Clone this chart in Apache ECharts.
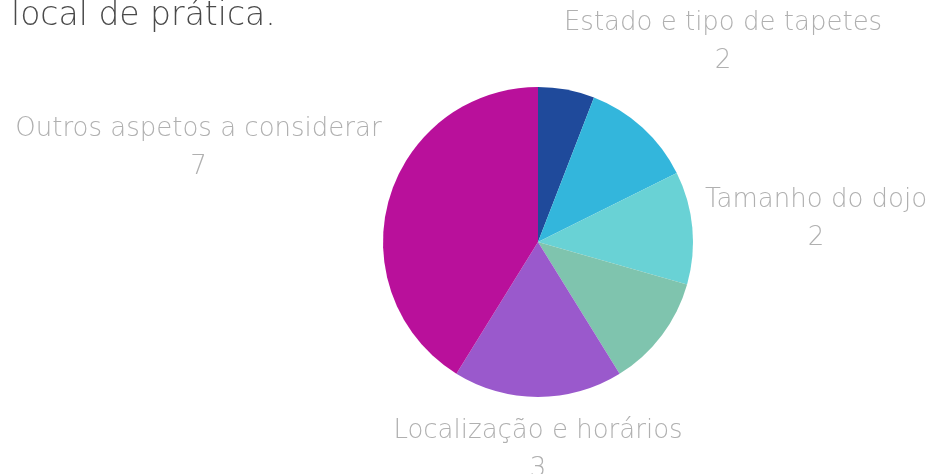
<!DOCTYPE html>
<html>
<head>
<meta charset="utf-8">
<script src="https://cdn.jsdelivr.net/npm/echarts@6/dist/echarts.min.js"></script>
<style>
  html, body { margin: 0; padding: 0; background: #fff; }
  #chart { width: 944px; height: 474px; }
</style>
</head>
<body>
<div id="chart"></div>
<script>
const titleText = 'local de prática.';
const names = ['', 'Estado e tipo de tapetes', 'Tamanho do dojo', '', 'Localização e horários', 'Outros aspetos a considerar'];
const values = [1, 2, 2, 2, 3, 7];
const colors = ['#1f4a9b', '#33b6dc', '#69d2d5', '#7fc4ae', '#9a59cc', '#b9109b'];
const showLabel = [false, true, true, false, true, true];

const center = [538, 242];
const radius = 155;
const clearR = 167;
const total = values.reduce((a, b) => a + b, 0);

// put each label along its slice's mid angle, just clear of the pie
const placeLabel = (params) => {
	const i = params.dataIndex;
	let before = 0;
	for (let k = 0; k < i; k++) before += values[k];
	const mid = (before + values[i] / 2) / total * Math.PI * 2;
	const ux = Math.sin(mid);
	const uy = -Math.cos(mid);
	const w = params.labelRect.width;
	const h = params.labelRect.height;
	let lo = 0, hi = 800;
	for (let n = 0; n < 40; n++) {
		const t = (lo + hi) / 2;
		const dx = Math.max(Math.abs(ux * t) - w / 2, 0);
		const dy = Math.max(Math.abs(uy * t) - h / 2, 0);
		if (Math.hypot(dx, dy) < clearR) lo = t; else hi = t;
	}
	return {
		x: center[0] + ux * hi,
		y: center[1] + uy * hi + 3,
		align: 'center',
		verticalAlign: 'middle'
	};
};

const chart = echarts.init(document.getElementById('chart'));
chart.setOption({
	animation: false,
	title: {
		text: titleText,
		left: 6,
		top: -5,
		textStyle: { fontFamily: 'DejaVu Sans', fontWeight: 200, fontSize: 33, color: '#4a4a4a' }
	},
	series: [{
		type: 'pie',
		center: center,
		radius: radius,
		startAngle: 90,
		clockwise: true,
		data: names.map((n, i) => ({
			name: n,
			value: values[i],
			itemStyle: { color: colors[i] },
			label: { show: showLabel[i] }
		})),
		itemStyle: { borderWidth: 0 },
		label: {
			position: 'inside',
			formatter: '{b}\n{c}',
			fontFamily: 'DejaVu Sans',
			fontWeight: 200,
			fontSize: 26,
			lineHeight: 38,
			color: '#b0b0b0'
		},
		labelLine: { show: false },
		labelLayout: placeLabel,
		emphasis: { disabled: true }
	}]
});
</script>
</body>
</html>
